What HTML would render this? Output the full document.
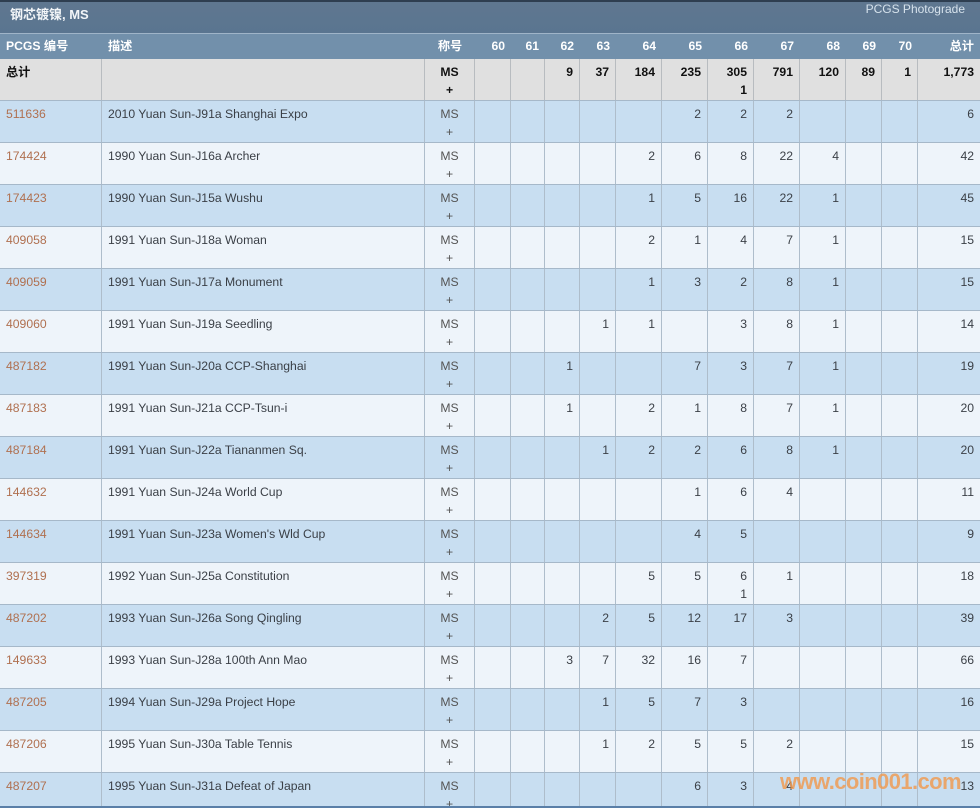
<!DOCTYPE html>
<html><head><meta charset="utf-8">
<style>
*{box-sizing:border-box;margin:0;padding:0}
html,body{width:980px;height:808px;overflow:hidden;background:#eef4fa}
body{font-family:"Liberation Sans","Noto Sans CJK SC",sans-serif;font-size:12.2px;color:#3a3f46;position:relative}
.title{position:absolute;left:0;top:0;width:980px;height:34px;background:linear-gradient(#5f7790,#5a7590);border-top:2px solid #2e3e50;border-bottom:1px solid #9fb4c8}
.title .t{position:absolute;left:10px;top:2px;color:#f2f5f8;font-weight:bold;font-size:13px}
.title .p{position:absolute;right:15px;top:0px;color:#d6e2ec;font-size:12px}
.row{position:absolute;left:0;width:980px;display:grid;grid-template-columns:102px 323px 50px 36px 34px 35px 36px 46px 46px 46px 46px 46px 36px 36px 62px;border-bottom:1px solid #a6b8c9}
.row>div{border-right:1px solid #aebdcb;padding:4px 6px 0 6px;line-height:18px;text-align:right;overflow:hidden}
.row>div:last-child{border-right:none}
.row>div:nth-child(1),.row>div:nth-child(2){text-align:left}
.row>div:nth-child(3){text-align:center;padding:4px 0 0 0}
.hdr{top:34px;height:25px;background:#7290ab;border-bottom:none}
.hdr>div,.hdr>div:nth-child(3){border-right:none;color:#fff;font-weight:bold;line-height:17px;padding-top:4px}
.tot{top:59px;height:42px;background:#e0e0e0;font-weight:bold;color:#111}
.tot>div{border-right-color:#b8bcc0}
.d{height:42px}
.b{background:#c8def1}
.l{background:#eef4fa}
.d>div:nth-child(3){color:#555}
.row>div.id{color:#b07050}
.wm{position:absolute;left:780px;top:769px;font-family:"Liberation Sans",sans-serif;font-weight:bold;font-size:22px;color:rgba(242,150,70,0.78);letter-spacing:-0.6px}
</style></head><body>
<div class="title"><span class="t">钢芯镀镍, MS</span><span class="p">PCGS Photograde</span></div>

<div class="row hdr"><div>PCGS 编号</div><div>描述</div><div>称号</div><div>60</div><div>61</div><div>62</div><div>63</div><div>64</div><div>65</div><div>66</div><div>67</div><div>68</div><div>69</div><div>70</div><div>总计</div></div>

<div class="row tot"><div>总计</div><div></div><div>MS<br>+</div><div></div><div></div><div>9</div><div>37</div><div>184</div><div>235</div><div>305<br>1</div><div>791</div><div>120</div><div>89</div><div>1</div><div>1,773</div></div>

<div class="row d b" style="top:101px"><div class="id">511636</div><div>2010 Yuan Sun-J91a Shanghai Expo</div><div>MS<br>+</div><div></div><div></div><div></div><div></div><div></div><div>2</div><div>2</div><div>2</div><div></div><div></div><div></div><div>6</div></div>

<div class="row d l" style="top:143px"><div class="id">174424</div><div>1990 Yuan Sun-J16a Archer</div><div>MS<br>+</div><div></div><div></div><div></div><div></div><div>2</div><div>6</div><div>8</div><div>22</div><div>4</div><div></div><div></div><div>42</div></div>

<div class="row d b" style="top:185px"><div class="id">174423</div><div>1990 Yuan Sun-J15a Wushu</div><div>MS<br>+</div><div></div><div></div><div></div><div></div><div>1</div><div>5</div><div>16</div><div>22</div><div>1</div><div></div><div></div><div>45</div></div>

<div class="row d l" style="top:227px"><div class="id">409058</div><div>1991 Yuan Sun-J18a Woman</div><div>MS<br>+</div><div></div><div></div><div></div><div></div><div>2</div><div>1</div><div>4</div><div>7</div><div>1</div><div></div><div></div><div>15</div></div>

<div class="row d b" style="top:269px"><div class="id">409059</div><div>1991 Yuan Sun-J17a Monument</div><div>MS<br>+</div><div></div><div></div><div></div><div></div><div>1</div><div>3</div><div>2</div><div>8</div><div>1</div><div></div><div></div><div>15</div></div>

<div class="row d l" style="top:311px"><div class="id">409060</div><div>1991 Yuan Sun-J19a Seedling</div><div>MS<br>+</div><div></div><div></div><div></div><div>1</div><div>1</div><div></div><div>3</div><div>8</div><div>1</div><div></div><div></div><div>14</div></div>

<div class="row d b" style="top:353px"><div class="id">487182</div><div>1991 Yuan Sun-J20a CCP-Shanghai</div><div>MS<br>+</div><div></div><div></div><div>1</div><div></div><div></div><div>7</div><div>3</div><div>7</div><div>1</div><div></div><div></div><div>19</div></div>

<div class="row d l" style="top:395px"><div class="id">487183</div><div>1991 Yuan Sun-J21a CCP-Tsun-i</div><div>MS<br>+</div><div></div><div></div><div>1</div><div></div><div>2</div><div>1</div><div>8</div><div>7</div><div>1</div><div></div><div></div><div>20</div></div>

<div class="row d b" style="top:437px"><div class="id">487184</div><div>1991 Yuan Sun-J22a Tiananmen Sq.</div><div>MS<br>+</div><div></div><div></div><div></div><div>1</div><div>2</div><div>2</div><div>6</div><div>8</div><div>1</div><div></div><div></div><div>20</div></div>

<div class="row d l" style="top:479px"><div class="id">144632</div><div>1991 Yuan Sun-J24a World Cup</div><div>MS<br>+</div><div></div><div></div><div></div><div></div><div></div><div>1</div><div>6</div><div>4</div><div></div><div></div><div></div><div>11</div></div>

<div class="row d b" style="top:521px"><div class="id">144634</div><div>1991 Yuan Sun-J23a Women's Wld Cup</div><div>MS<br>+</div><div></div><div></div><div></div><div></div><div></div><div>4</div><div>5</div><div></div><div></div><div></div><div></div><div>9</div></div>

<div class="row d l" style="top:563px"><div class="id">397319</div><div>1992 Yuan Sun-J25a Constitution</div><div>MS<br>+</div><div></div><div></div><div></div><div></div><div>5</div><div>5</div><div>6<br>1</div><div>1</div><div></div><div></div><div></div><div>18</div></div>

<div class="row d b" style="top:605px"><div class="id">487202</div><div>1993 Yuan Sun-J26a Song Qingling</div><div>MS<br>+</div><div></div><div></div><div></div><div>2</div><div>5</div><div>12</div><div>17</div><div>3</div><div></div><div></div><div></div><div>39</div></div>

<div class="row d l" style="top:647px"><div class="id">149633</div><div>1993 Yuan Sun-J28a 100th Ann Mao</div><div>MS<br>+</div><div></div><div></div><div>3</div><div>7</div><div>32</div><div>16</div><div>7</div><div></div><div></div><div></div><div></div><div>66</div></div>

<div class="row d b" style="top:689px"><div class="id">487205</div><div>1994 Yuan Sun-J29a Project Hope</div><div>MS<br>+</div><div></div><div></div><div></div><div>1</div><div>5</div><div>7</div><div>3</div><div></div><div></div><div></div><div></div><div>16</div></div>

<div class="row d l" style="top:731px"><div class="id">487206</div><div>1995 Yuan Sun-J30a Table Tennis</div><div>MS<br>+</div><div></div><div></div><div></div><div>1</div><div>2</div><div>5</div><div>5</div><div>2</div><div></div><div></div><div></div><div>15</div></div>

<div class="row d b" style="top:773px;height:35px;border-bottom:2px solid #5a7fa8"><div class="id">487207</div><div>1995 Yuan Sun-J31a Defeat of Japan</div><div>MS<br>+</div><div></div><div></div><div></div><div></div><div></div><div>6</div><div>3</div><div>4</div><div></div><div></div><div></div><div>13</div></div>

<div class="wm">www.coin001.com</div>
</body></html>
